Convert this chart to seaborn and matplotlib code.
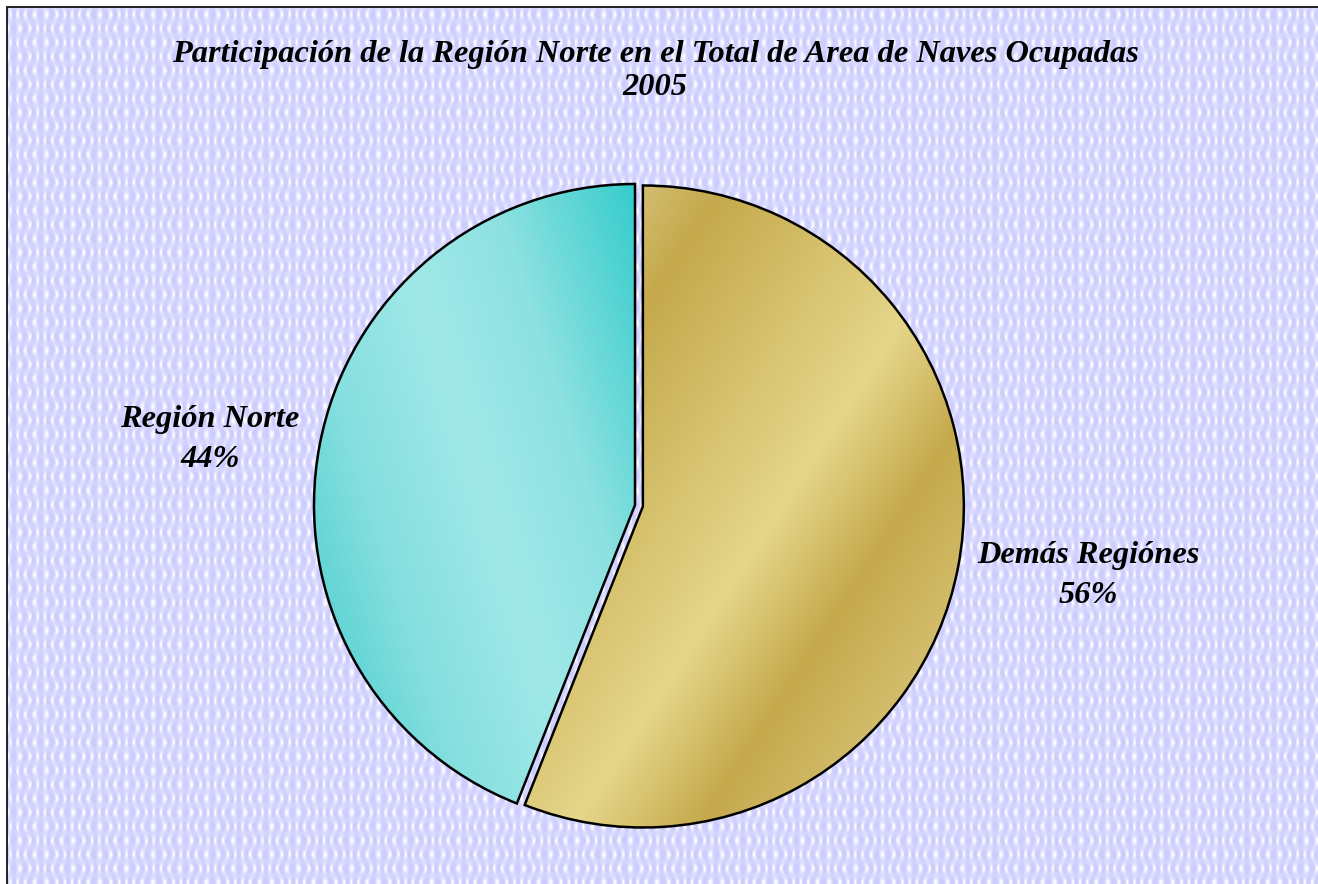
import numpy as np
import matplotlib
matplotlib.use("Agg")
import matplotlib.pyplot as plt
import seaborn as sns
from matplotlib.patches import Rectangle

# data
regions = ["Demás Regiónes", "Región Norte"]
shares = [56, 44]
title = "Participación de la Región Norte en el Total de Area de Naves Ocupadas\n2005"

sns.set_style("white")
plt.rcParams["font.family"] = ["Liberation Serif", "DejaVu Serif"]
plt.rcParams["text.color"] = "black"

W, H = 1318, 884
fig = plt.figure(figsize=(W / 100, H / 100), dpi=100)
fig.patch.set_facecolor("white")
ax = fig.add_axes([0, 0, 1, 1])

# patterned lavender background (decoration only)
yy, xx = np.mgrid[0:H, 0:W].astype(float)
phase = 2 * np.pi * xx / 9.0 + 1.8 * np.cos(2 * np.pi * yy / 28.0) * np.cos(2 * np.pi * xx / 56.0)
t = 0.5 + 0.5 * np.cos(phase) * (0.6 + 0.4 * np.cos(2 * np.pi * yy / 14.0))
t = np.clip(t, 0, 1) ** 2.2
lav = np.array([204, 204, 255]) / 255
wht = np.array([255, 255, 255]) / 255
bg = lav[None, None, :] * (1 - t[..., None]) + wht[None, None, :] * t[..., None]
bg = np.clip(bg, 0, 1)
ax.imshow(bg[7:, 7:], extent=(7, W, 0, H - 7), origin="upper", zorder=0, interpolation="nearest")
ax.add_patch(Rectangle((7, -20), W + 50, H - 7 + 20, fill=False, edgecolor="#111111", lw=1.3, zorder=1))

cx, cy, r = 635, H - 505, 321
wedges, _ = ax.pie(shares, startangle=90, counterclock=False, center=(cx, cy), radius=r,
                   explode=[8, 0], wedgeprops=dict(edgecolor="black", linewidth=1.8, zorder=3))


def gradient_fill(wedge, direction, stops, colors):
    gx, gy = np.meshgrid(np.arange(cx - r - 20, cx + r + 20), np.arange(cy + r + 20, cy - r - 20, -1))
    s = (gx - cx) * direction[0] + (gy - cy) * direction[1]
    rgb = np.array([matplotlib.colors.to_rgb(c) for c in colors])
    img = np.stack([np.interp(s, stops, rgb[:, k]) for k in range(3)], axis=-1)
    im = ax.imshow(img, extent=(cx - r - 20, cx + r + 20, cy - r - 20, cy + r + 20),
                   origin="upper", zorder=2, interpolation="bilinear")
    im.set_clip_path(wedge)
    wedge.set_facecolor("none")


gradient_fill(wedges[0], (0.839, -0.545),
              [-340, -170, -101, 123, 228, 340],
              ["#d8c47e", "#d3be72", "#c5a94c", "#e5d68a", "#c5a94c", "#d5c070"])
gradient_fill(wedges[1], (0.95, 0.30),
              [-330, -250, -140, -40, 96],
              ["#5ed3d3", "#86dfdf", "#a0e8e8", "#8de1e1", "#35cccc"])

# labels
label_dist = [1.43, 1.34]
for wdg, name, val, d in zip(wedges, regions, shares, label_dist):
    ang = np.deg2rad((wdg.theta1 + wdg.theta2) / 2 + 2)
    ax.text(cx + d * r * np.cos(ang), cy + d * r * np.sin(ang), f"{name}\n{val}%",
            ha="center", va="center", fontsize=23.3, fontweight="bold", fontstyle="italic",
            linespacing=1.5, zorder=4, color="black")

ax.text(655, H - 71, title, ha="center", va="center", fontsize=23.3,
        fontweight="bold", fontstyle="italic", linespacing=1.22, zorder=4, color="black")

ax.set_xlim(0, W)
ax.set_ylim(0, H)
ax.set_aspect("auto")
ax.axis("off")

fig.savefig("out.png", dpi=100)
